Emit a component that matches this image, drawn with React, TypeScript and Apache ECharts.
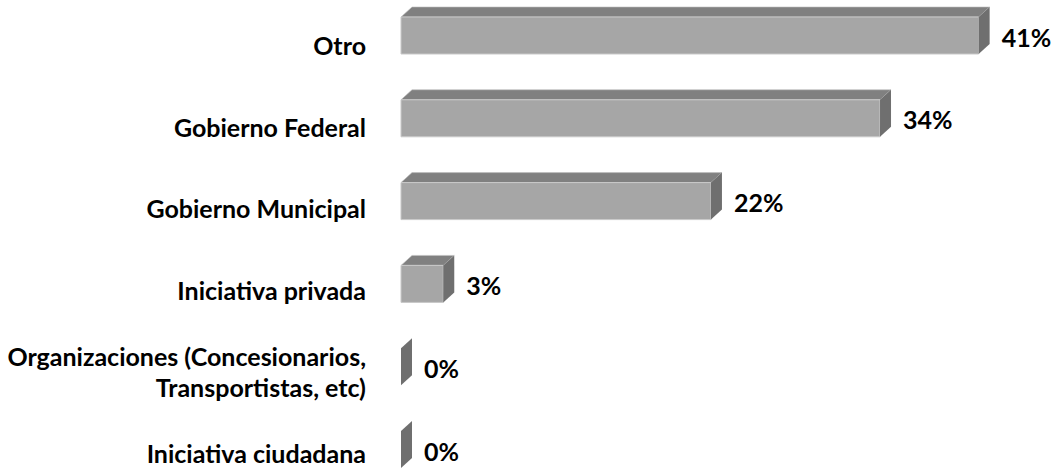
import React, { useEffect, useRef } from "react";
import * as echarts from "echarts";

const categories = [
  "Otro",
  "Gobierno Federal",
  "Gobierno Municipal",
  "Iniciativa privada",
  "Organizaciones (Concesionarios,\nTransportistas, etc)",
  "Iniciativa ciudadana",
];
const values = [41, 34, 22, 3, 0, 0];
const valueLabels = ["41%", "34%", "22%", "3%", "0%", "0%"];

const FONT = "Lato, 'Open Sans', sans-serif";

export default function App() {
  const ref = useRef<HTMLDivElement>(null);
  useEffect(() => {
    document.body.style.margin = "0";
    const chart = echarts.init(ref.current!, null, { renderer: "svg" });
    const DX = 11;
    const DY = 10;
    chart.setOption({
      animation: false,
      backgroundColor: "#ffffff",
      grid: [
        { left: 401, top: 4.2, width: 634, height: 489.6, outerBoundsMode: "none", containLabel: false },
        { left: 401, top: -5.9, width: 634, height: 496.8, outerBoundsMode: "none", containLabel: false },
      ],
      xAxis: [
        { gridIndex: 0, type: "value", min: 0, max: 45, show: false },
        { gridIndex: 1, type: "value", min: 0, max: 45, show: false },
      ],
      yAxis: [
        {
          gridIndex: 0,
          type: "category",
          inverse: true,
          data: categories,
          axisLine: { show: false },
          axisTick: { show: false },
          splitLine: { show: false },
          axisLabel: {
            margin: 35,
            color: "#000000",
            fontFamily: FONT,
            fontWeight: "bold",
            fontSize: 25,
            lineHeight: 31,
            align: "right",
          },
        },
        {
          gridIndex: 1,
          type: "category",
          inverse: true,
          data: categories,
          show: false,
        },
      ],
      series: [
        {
          type: "custom",
          xAxisIndex: 1,
          yAxisIndex: 1,
          clip: false,
          data: values.map((v, i) => [v, i]),
          renderItem: (params: any, api: any) => {
            const idx = api.value(1);
            const val = api.value(0);
            const c = api.coord([0, idx]);
            const e = api.coord([val, idx]);
            const band = api.size([0, 1])[1];
            const h = band * 0.447;
            const yc = c[1];
            const x0 = c[0];
            const x1 = e[0];
            const top = yc - h / 2;
            const bottom = yc + h / 2;
            const children: any[] = [];
            if (x1 > x0) {
              children.push({
                type: "polygon",
                shape: { points: [[x0, top], [x0 + DX, top - DY], [x1 + DX, top - DY], [x1, top]] },
                style: { fill: "#808080", stroke: "#bdbdbd", lineWidth: 0.6 },
              });
              children.push({
                type: "rect",
                shape: { x: x0, y: top, width: x1 - x0, height: h },
                style: { fill: "#a6a6a6", stroke: "#c9c9c9", lineWidth: 1 },
              });
            }
            children.push({
              type: "polygon",
              shape: { points: [[x1, top], [x1 + DX, top - DY], [x1 + DX, bottom - DY], [x1, bottom]] },
              style: { fill: "#6f6f6f" },
            });
            children.push({
              type: "text",
              x: x1 + DX + 12,
              y: yc + 1,
              style: {
                text: valueLabels[params.dataIndex],
                fill: "#000000",
                font: `bold 25px ${FONT}`,
                verticalAlign: "middle",
                align: "left",
              },
            });
            return { type: "group", children };
          },
        },
      ],
    });
    return () => chart.dispose();
  }, []);
  return <div ref={ref} style={{ width: 1052, height: 469 }} />;
}
